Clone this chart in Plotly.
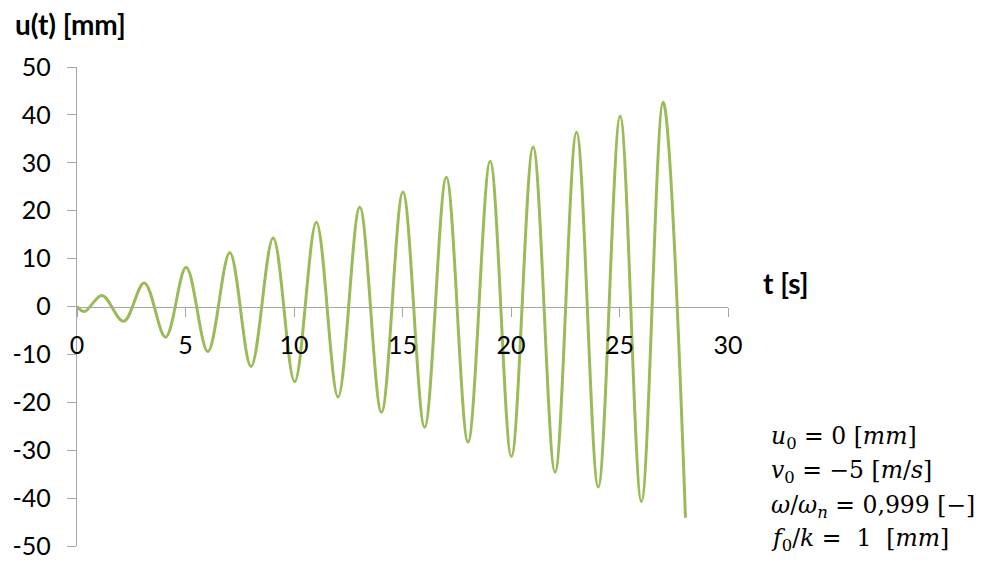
import plotly.graph_objects as go

# Response u(t) near resonance: successive extrema of the oscillation
t_s = [0, 0.35, 1.15, 2.15, 3.1, 4.08, 5.03, 6.03, 7.04, 8.02, 9.04, 10.03,
       11.03, 12.03, 13.03, 14.03, 15.02, 16.02, 17.02, 18.02, 19.04, 20.02,
       21.02, 22.03, 23.02, 24.02, 25.03, 26.01, 27.01, 28.04]
u_mm = [0, -1.05, 2.3, -3.1, 4.9, -6.4, 8.2, -9.4, 11.2, -12.5, 14.3, -15.7,
        17.6, -18.9, 20.7, -22.1, 23.9, -25.2, 27.0, -28.3, 30.3, -31.3,
        33.3, -34.6, 36.4, -37.7, 39.7, -40.7, 42.65, -44.1]

x_ticks = [0, 5, 10, 15, 20, 25, 30]
y_ticks = [-50, -40, -30, -20, -10, 0, 10, 20, 30, 40, 50]
y_tick_text = [str(v) for v in y_ticks]  # plain hyphen for negatives

W, H = 984, 567
L, R, T, B = 77, 256, 67, 21
PW, PH = W - L - R, H - T - B


def px(x):
    return (x - L) / PW


def py(y):
    return 1 - (y - T) / PH


AXIS = "#a6a6a6"
FONT = "Lato"
MATH = "DejaVu Serif"

fig = go.Figure()
fig.add_trace(go.Scatter(
    x=t_s, y=u_mm, mode="lines",
    line=dict(color="#9bbb59", width=3, shape="spline", smoothing=1.0),
    hoverinfo="skip", showlegend=False,
))

fig.update_layout(
    width=W, height=H,
    margin=dict(l=L, r=R, t=T, b=B),
    paper_bgcolor="white", plot_bgcolor="white",
    font=dict(family=FONT, size=25, color="black"),
    xaxis=dict(
        range=[0, 30], tickvals=x_ticks, ticktext=[str(v) for v in x_ticks],
        showgrid=False, zeroline=False, showline=True, linecolor=AXIS,
        linewidth=1.3, ticks="outside", ticklen=9, tickcolor=AXIS,
        tickwidth=1.3, anchor="free", position=0.5, automargin=False,
        ticklabelstandoff=7, tickfont=dict(family=FONT, size=25),
    ),
    yaxis=dict(
        range=[-50, 50], tickvals=y_ticks, ticktext=y_tick_text,
        showgrid=False, zeroline=False, showline=True, linecolor=AXIS,
        linewidth=1.3, ticks="outside", ticklen=9, tickcolor=AXIS,
        tickwidth=1.3, ticklabelstandoff=11, automargin=False,
        tickfont=dict(family=FONT, size=25),
    ),
)

ann = []
ann.append(dict(text="<b>u(t) [mm]</b>", x=px(13), y=py(24), xanchor="left",
                yanchor="middle", font=dict(family=FONT, size=28)))
ann.append(dict(text="<b>t [s]</b>", x=px(761), y=py(283), xanchor="left",
                yanchor="middle", font=dict(family=FONT, size=28)))

params = [
    ("<i>u</i><sub>0</sub> = 0 [<i>mm</i>]", 437),
    ("<i>v</i><sub>0</sub> = −5 [<i>m</i>/<i>s</i>]", 471),
    ("<i>ω</i>/<i>ω<sub>n</sub></i> = 0,999 [−]", 506),
    ("<i>f</i><sub>0</sub>/<i>k</i> =  1  [<i>mm</i>]", 539),
]
for txt, yy in params:
    ann.append(dict(text=txt, x=px(769), y=py(yy), xanchor="left",
                    yanchor="middle", font=dict(family=MATH, size=23.5)))

for a in ann:
    a.update(xref="paper", yref="paper", showarrow=False)
fig.update_layout(annotations=ann)

fig.write_html("out.html")
